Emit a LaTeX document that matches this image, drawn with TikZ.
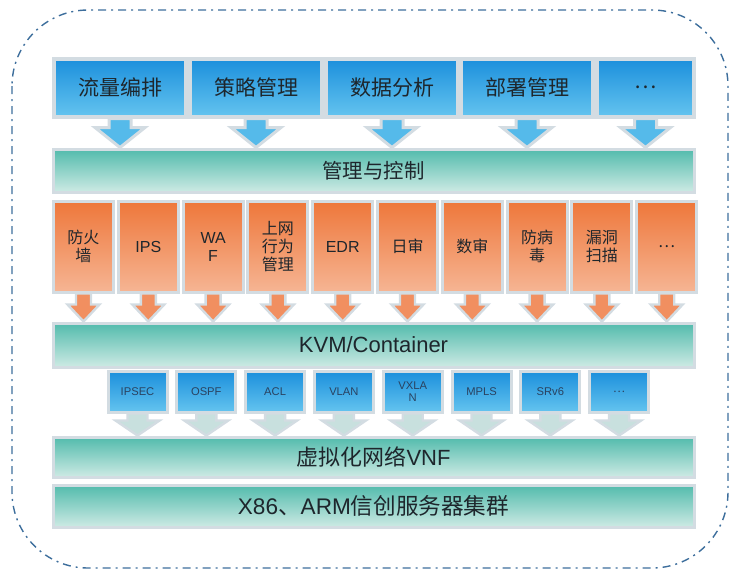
\documentclass[tikz,border=0pt]{standalone}
\usepackage{fontspec}
\setmainfont{Liberation Sans}
\newfontfamily\cjk{Noto Sans CJK SC}
\usetikzlibrary{calc}
\definecolor{rim}{HTML}{D3DCE2}
\definecolor{ink}{HTML}{1E262C}
\definecolor{navy}{HTML}{2A4260}
\definecolor{frameblue}{HTML}{3D6E9C}
\definecolor{blueA}{HTML}{1B8FDC}
\definecolor{blueB}{HTML}{64C4EF}
\definecolor{blueC}{HTML}{55BAEA}
\definecolor{orangeA}{HTML}{EE773A}
\definecolor{orangeB}{HTML}{F6B594}
\definecolor{orangeC}{HTML}{F18F60}
\definecolor{tealA}{HTML}{52BBAC}
\definecolor{tealM}{HTML}{A3D9CF}
\definecolor{tealB}{HTML}{CDEAE4}
\definecolor{paleC}{HTML}{C8E0DE}
\tikzset{ fn/.style = { rectangle % function box
        , draw = rim
        , line width = 2pt
        , top color = blueA
        , bottom color = blueB
        , minimum width = 66pt
        , minimum height = 29pt
        , inner sep = 0pt
        , font = \cjk\fontsize{10.5}{12}\selectfont
        , text = ink
        }
        , sv/.style = { rectangle % security service
        , draw = rim
        , line width = 1.5pt
        , top color = orangeA
        , bottom color = orangeB
        , minimum width = 30pt
        , minimum height = 45.5pt
        , inner sep = 0pt
        , align = center
        , font = \fontsize{8}{9}\selectfont
        , text = ink
        }
        , pr/.style = { rectangle % protocol
        , draw = rim
        , line width = 1.5pt
        , top color = blueA
        , bottom color = blueB
        , minimum width = 29.5pt
        , minimum height = 20.5pt
        , inner sep = 0pt
        , align = center
        , font = \fontsize{5.6}{6}\selectfont
        , text = navy
        }
        , bar/.style = { rectangle % layer bar
        , draw = rim
        , line width = 1.5pt
        , top color = tealA
        , middle color = tealM
        , bottom color = tealB
        , minimum width = 320.5pt
        , inner sep = 0pt
        , text = ink
        }
        , fat_arrow/.style n args = {3}{ to path = { let \p1 = (\tikztostart), \p2 = (\tikztotarget) in
          (\x1-#1,\y1) -- (\x1-#1,\y2+#3) -- (\x1-#2,\y2+#3) -- (\x1,\y2)
          -- (\x1+#2,\y2+#3) -- (\x1+#1,\y2+#3) -- (\x1+#1,\y1) -- cycle } }
        }

\begin{document}
\begin{tikzpicture}[x=0.5pt, y=-0.5pt, line join=miter,
        frame_style/.style={draw=frameblue, line width=0.7pt, rounded corners=38pt,
          dash pattern=on 4pt off 2.5pt on 1pt off 2.5pt},
        arrow_top/.style={fat_arrow={5.5pt}{12.5pt}{10pt}, draw=rim, line width=1.5pt, fill=blueC},
        arrow_mid/.style={fat_arrow={3.75pt}{8pt}{8.5pt}, draw=rim, line width=1.2pt, fill=orangeC},
        arrow_low/.style={fat_arrow={5pt}{11pt}{7.5pt}, draw=rim, line width=1.2pt, fill=paleC}]
        \useasboundingbox (0,0) rectangle (740,580);
        \draw [frame_style] (12,10) rectangle (728,568);

        % functions
        \node [fn](f1) at (120,87.5) {流量编排};
        \node [fn](f2) at (256,87.5) {策略管理};
        \node [fn](f3) at (392,87.5) {数据分析};
        \node [fn](f4) at (527,87.5) {部署管理};
        \node [fn,minimum width=48.5pt](f5) at (645.5,87.5) {…};
        \node [bar,minimum height=21.5pt,font=\cjk\fontsize{10.2}{12}\selectfont](ctl) at (373.5,170.5) {管理与控制};

        % security services
        \node [sv](s1) at (83.5,246.5) {\cjk 防火\\\cjk 墙};
        \node [sv](s2) at (148.3,246.5) {IPS};
        \node [sv](s3) at (213.1,246.5) {WA\\F};
        \node [sv](s4) at (277.9,246.5) {\cjk 上网\\\cjk 行为\\\cjk 管理};
        \node [sv](s5) at (342.7,246.5) {EDR};
        \node [sv](s6) at (407.5,246.5) {\cjk 日审};
        \node [sv](s7) at (472.3,246.5) {\cjk 数审};
        \node [sv](s8) at (537.1,246.5) {\cjk 防病\\\cjk 毒};
        \node [sv](s9) at (601.9,246.5) {\cjk 漏洞\\\cjk 扫描};
        \node [sv](s10) at (666.7,246.5) {\cjk …};
        \node [bar,minimum height=22pt,font=\fontsize{11}{13}\selectfont](kvm) at (373.5,345) {KVM/Container};

        % protocols
        \node [pr](p1) at (137.5,391.5) {IPSEC};
        \node [pr](p2) at (206.3,391.5) {OSPF};
        \node [pr](p3) at (275.1,391.5) {ACL};
        \node [pr](p4) at (343.9,391.5) {VLAN};
        \node [pr](p5) at (412.7,391.5) {VXLA\\N};
        \node [pr](p6) at (481.5,391.5) {MPLS};
        \node [pr](p7) at (550.3,391.5) {SRv6};
        \node [pr](p8) at (619.1,391.5) {\cjk …};
        \node [bar,minimum height=20pt,font=\fontsize{11}{13}\selectfont](vnf) at (373.5,457) {{\cjk 虚拟化网络}VNF};
        \node [bar,minimum height=21pt,font=\fontsize{11.3}{13}\selectfont](hw) at (373.5,506) {X86{\cjk 、}ARM{\cjk 信创服务器集群}};

        \draw [arrow_top] (f1.south) to (f1.south |- ctl.north);
        \draw [arrow_top] (f2.south) to (f2.south |- ctl.north);
        \draw [arrow_top] (f3.south) to (f3.south |- ctl.north);
        \draw [arrow_top] (f4.south) to (f4.south |- ctl.north);
        \draw [arrow_top] (f5.south) to (f5.south |- ctl.north);
        \draw [arrow_mid] (s1.south) to (s1.south |- kvm.north);
        \draw [arrow_mid] (s2.south) to (s2.south |- kvm.north);
        \draw [arrow_mid] (s3.south) to (s3.south |- kvm.north);
        \draw [arrow_mid] (s4.south) to (s4.south |- kvm.north);
        \draw [arrow_mid] (s5.south) to (s5.south |- kvm.north);
        \draw [arrow_mid] (s6.south) to (s6.south |- kvm.north);
        \draw [arrow_mid] (s7.south) to (s7.south |- kvm.north);
        \draw [arrow_mid] (s8.south) to (s8.south |- kvm.north);
        \draw [arrow_mid] (s9.south) to (s9.south |- kvm.north);
        \draw [arrow_mid] (s10.south) to (s10.south |- kvm.north);
        \draw [arrow_low] (p1.south) to (p1.south |- vnf.north);
        \draw [arrow_low] (p2.south) to (p2.south |- vnf.north);
        \draw [arrow_low] (p3.south) to (p3.south |- vnf.north);
        \draw [arrow_low] (p4.south) to (p4.south |- vnf.north);
        \draw [arrow_low] (p5.south) to (p5.south |- vnf.north);
        \draw [arrow_low] (p6.south) to (p6.south |- vnf.north);
        \draw [arrow_low] (p7.south) to (p7.south |- vnf.north);
        \draw [arrow_low] (p8.south) to (p8.south |- vnf.north);

        \end{tikzpicture}
\end{document}
